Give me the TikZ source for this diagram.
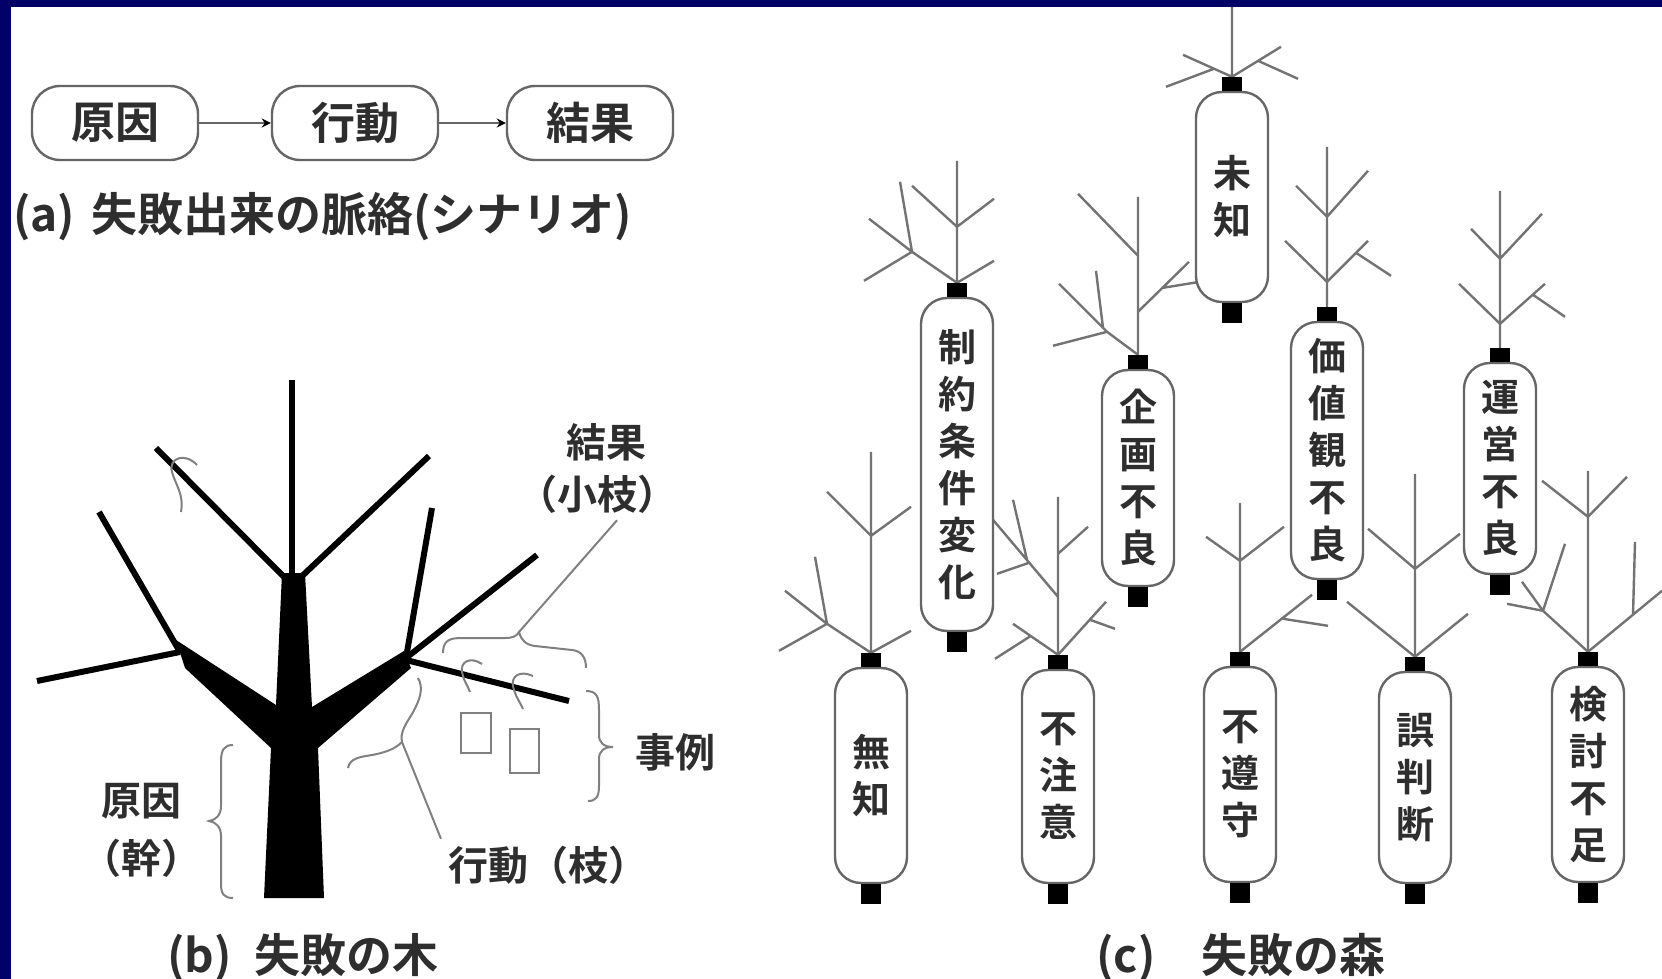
\documentclass[tikz,border=0pt]{standalone}
\usepackage{fontspec}
\setmainfont{Noto Sans CJK JP}[BoldFont={* Bold}]
\usetikzlibrary{arrows.meta,backgrounds}
\definecolor{navy}{HTML}{000066}
\definecolor{ink}{HTML}{2E2E2E}

\begin{document}
\begin{tikzpicture}[x=0.5pt,y=-0.5pt,
	box/.style={draw=black!60,line width=1.2pt,rounded corners=14pt,minimum width=83pt,minimum height=37pt,text=ink,font=\fontsize{22}{22}\selectfont\bfseries},
	arr/.style={draw=black!60,line width=1.1pt,-{Stealth[length=4.5pt,width=4.5pt,color=black]}},
	lantern/.style={draw=black!60,line width=1.2pt,fill=white,rounded corners=13pt,minimum width=36pt,inner sep=0pt,align=center,text=ink,font=\fontsize{19}{23.5}\selectfont\bfseries},
	twig/.style={black!55,line width=1.2pt},
	limb/.style={line width=3pt},
	note/.style={black!50,line width=1pt},
	lbl/.style={text=ink,font=\fontsize{20}{20}\selectfont\bfseries},
	capt/.style={text=ink,font=\fontsize{23}{23}\selectfont\bfseries}]
\useasboundingbox (0,0) rectangle (1662,979);

% (a) scenario
\node[box] (cause) at (115,123) {原因};
\node[box] (deed) at (355,123) {行動};
\node[box] (result) at (590,123) {結果};
\draw[arr] (cause) -- (deed);
\draw[arr] (deed) -- (result);
\node[capt,anchor=west,inner sep=0pt] (capa) at (13,217) {(a)\hspace{8pt}失敗出来の脈絡(シナリオ)};

% (b) tree
\fill (264,898) -- (271,748) -- (185,668) -- (176,640) -- (276,705) -- (282,573) -- (305,573) -- (312,707) -- (404,651) -- (411,668) -- (318,748) -- (324,898) -- cycle;
\draw[limb] (292,576) -- (292,380);
\draw[limb] (285,578) -- (156,448);
\draw[limb] (300,578) -- (429,456);
\draw[limb] (180,652) -- (37,681);
\draw[limb] (180,652) -- (99,512);
\draw[limb] (406,658) -- (432,508);
\draw[limb] (406,658) -- (537,555);
\draw[limb] (406,660) -- (569,701);

\draw[note] (197,465) .. controls (185,452) and (168,458) .. (172,472) .. controls (176,486) and (184,494) .. (181,512);
\draw[note] (443,653) .. controls (443,640) and (450,638) .. (462,638) -- (505,638) .. controls (513,638) and (517,636) .. (519,632) .. controls (521,640) and (526,645) .. (535,646) -- (572,650) .. controls (582,651) and (586,658) .. (586,668);
\coordinate (twigtip) at (519,632);
\draw[note] (482,664) .. controls (470,656) and (460,662) .. (462,672) .. controls (464,682) and (468,686) .. (470,692);
\draw[note] (533,676) .. controls (520,670) and (511,676) .. (513,686) .. controls (515,696) and (520,702) .. (523,709);
\draw[note] (461,713) rectangle (491,753);
\draw[note] (510,729) rectangle (539,773);
\draw[note] (586,691) .. controls (597,691) and (599,697) .. (599,710) -- (599,735) .. controls (599,743) and (604,747) .. (613,747) .. controls (604,747) and (599,751) .. (599,759) -- (599,786) .. controls (599,797) and (596,801) .. (588,801);
\draw[note] (348,768) .. controls (350,758) and (360,757) .. (372,755) .. controls (388,752) and (396,748) .. (402,742) .. controls (400,733) and (405,725) .. (412,714) .. controls (420,700) and (424,688) .. (418,678);
\coordinate (branchtip) at (402,742);
\draw[note] (233,745) .. controls (224,745) and (221,750) .. (221,762) -- (221,806) .. controls (221,815) and (216,820) .. (209,821) .. controls (216,822) and (221,827) .. (221,836) -- (221,884) .. controls (221,894) and (224,898) .. (233,898);

\node[lbl] (lres) at (606,442) {結果};
\node[lbl] (lsub) at (597,494) {（小枝）};
\node[lbl] (lcase) at (675,752) {事例};
\node[lbl] (lcause) at (141,801) {原因};
\node[lbl] (ltrunk) at (142,858) {（幹）};
\node[lbl] (lact) at (548,865) {行動（枝）};
\draw[note] (twigtip) -- ([xshift=10pt]lsub.south);
\draw[note] (branchtip) -- (lact.north west);
\node[capt] (capb) at (303,958) {(b)\enspace 失敗の木};

% (c) forest
\node[lantern,minimum height=105pt] (unknown) at (1232,197) {未\\知};
\node[lantern,minimum height=166.5pt] (constraint) at (957,464.5) {制\\約\\条\\件\\変\\化};
\node[lantern,minimum height=108pt] (planning) at (1138,478) {企\\画\\不\\良};
\node[lantern,minimum height=128.5pt] (values) at (1327,450.5) {価\\値\\観\\不\\良};
\node[lantern,minimum height=105.5pt] (operation) at (1500,468.5) {運\\営\\不\\良};
\node[lantern,minimum height=107.5pt] (ignorance) at (871,775.5) {無\\知};
\node[lantern,minimum height=106.5pt] (careless) at (1058,776.5) {不\\注\\意};
\node[lantern,minimum height=107.5pt] (noncomply) at (1240,774.5) {不\\遵\\守};
\node[lantern,minimum height=105.5pt] (misjudge) at (1415,777.5) {誤\\判\\断};
\node[lantern,minimum height=107.5pt] (review) at (1588,774.5) {検\\討\\不\\足};
\foreach \n in {unknown,constraint,planning,values,operation,ignorance,careless,noncomply,misjudge,review} {
	\fill ([xshift=-5pt]\n.north) rectangle ([xshift=5pt,yshift=7pt]\n.north);
	\fill ([xshift=-5pt]\n.south) rectangle ([xshift=5pt,yshift=-10pt]\n.south);
	\coordinate (\n-top) at ([yshift=7pt]\n.north);
}
\node[capt] (capc) at (1241,958) {(c)\quad 失敗の森};

\begin{scope}[on background layer]
\fill[white] (0,0) rectangle (1662,979);
\begin{scope}[shift={(unknown-top)}]
	\draw[twig] (0,0) -- (0,-80) (0,0) -- (-49,-22) (-18,-8) -- (-66,10) (0,0) -- (49,-30) (26,-16) -- (66,2);
\end{scope}
\begin{scope}[shift={(constraint-top)}]
	\draw[twig] (0,0) -- (0,-122) (0,-56) -- (-45,-97) (0,-56) -- (37,-84) (0,0) -- (37,-22);
	\draw[twig] (0,0) -- (-45,-31) -- (-88,-64) (-45,-31) -- (-93,-2) (-45,-31) -- (-57,-101);
\end{scope}
\begin{scope}[shift={(planning-top)}]
	\draw[twig] (0,0) -- (0,-158) (0,-99) -- (-60,-161) (0,-43) -- (51,-93) (25,-67) -- (62,-73);
	\draw[twig] (0,0) -- (-31,-23) -- (-79,-71) (-31,-23) -- (-85,-9) (-35,-27) -- (-42,-84);
\end{scope}
\begin{scope}[shift={(values-top)}]
	\draw[twig] (0,0) -- (0,-160) (0,-90) -- (-31,-121) (0,-90) -- (41,-136);
	\draw[twig] (0,-25) -- (-42,-66) (0,-25) -- (41,-66) (29,-54) -- (64,-31);
\end{scope}
\begin{scope}[shift={(operation-top)}]
	\draw[twig] (0,0) -- (0,-157) (0,-89) -- (-29,-119) (0,-89) -- (42,-134);
	\draw[twig] (0,-24) -- (-41,-64) (0,-24) -- (45,-64) (33,-53) -- (65,-31);
\end{scope}
\begin{scope}[shift={(ignorance-top)}]
	\draw[twig] (0,0) -- (0,-201) (0,-117) -- (-44,-161) (0,-117) -- (40,-146) (0,0) -- (40,-22);
	\draw[twig] (0,0) -- (-44,-29) -- (-86,-62) (-44,-29) -- (-92,-2) (-44,-29) -- (-56,-96);
\end{scope}
\begin{scope}[shift={(careless-top)}]
	\draw[twig] (0,0) -- (0,-158) (0,-101) -- (30,-128) (0,-58) -- (-65,-135) (-29,-92) -- (-61,-81) (-31,-95) -- (-45,-155);
	\draw[twig] (0,0) -- (48,-53) (32,-35) -- (57,-26) (0,0) -- (-45,-31) (-27,-19) -- (-63,4);
\end{scope}
\begin{scope}[shift={(noncomply-top)}]
	\draw[twig] (0,0) -- (0,-149) (0,-91) -- (-34,-115) (0,-91) -- (44,-125);
	\draw[twig] (0,0) -- (72,-57) (43,-33) -- (88,-26);
\end{scope}
\begin{scope}[shift={(misjudge-top)}]
	\draw[twig] (0,0) -- (0,-183) (0,-88) -- (-47,-128) (0,-88) -- (45,-123);
	\draw[twig] (0,0) -- (-68,-55) (0,0) -- (53,-43);
\end{scope}
\begin{scope}[shift={(review-top)}]
	\draw[twig] (0,0) -- (0,-181) (0,-135) -- (-46,-171) (0,-135) -- (39,-175);
	\draw[twig] (0,0) -- (-45,-41) -- (-66,-70) (-45,-41) -- (-23,-108) (-45,-41) -- (-81,-48);
	\draw[twig] (0,0) -- (74,-61) (45,-37) -- (47,-110);
\end{scope}
\end{scope}

% frame
\fill[navy] (0,0) rectangle (1662,7);
\fill[navy] (0,0) rectangle (11,979);
\end{tikzpicture}
\end{document}
